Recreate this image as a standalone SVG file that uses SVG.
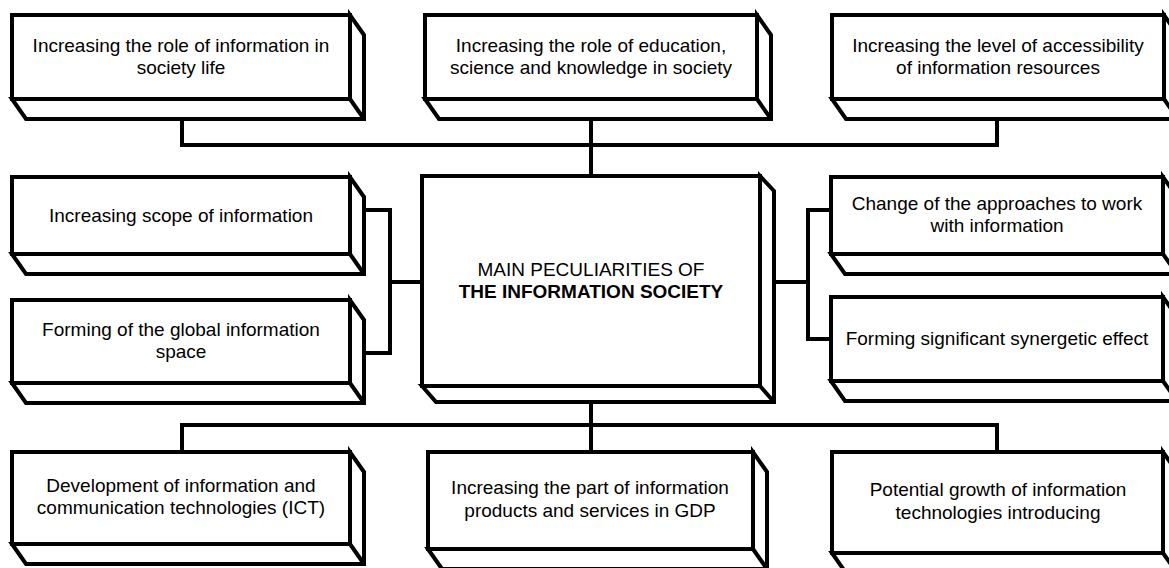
<svg xmlns="http://www.w3.org/2000/svg" width="1169" height="568" viewBox="0 0 1169 568">
<style>
.b{fill:#fff;stroke:#000;stroke-width:4;stroke-linejoin:miter}
.e{fill:none;stroke:#000;stroke-width:4;stroke-linejoin:miter}
.c{fill:none;stroke:#000;stroke-width:4;stroke-linejoin:miter}
text{font-family:"Liberation Sans",Arial,sans-serif;font-size:19px;fill:#000;text-anchor:middle}
.bold{font-weight:bold}
</style>
<rect width="1169" height="568" fill="#fff"/>
<g id="connectors">
<path class="c" d="M182,119 V145 H997 V119"/>
<path class="c" d="M591,119 V176"/>
<path class="c" d="M364,210 H390 V353 H364"/>
<path class="c" d="M390,282 H422"/>
<path class="c" d="M774,282 H808"/>
<path class="c" d="M831,210 H808 V339 H831"/>
<path class="c" d="M591,402 V452"/>
<path class="c" d="M182,452 V425 H997 V452"/>
</g>
<g id="n1">
<path class="b" d="M12,99 L26,119 H364 V35 L350,15 V99 Z"/>
<rect class="b" x="12" y="15" width="338" height="84"/>
<path class="e" d="M350,99 L364,119"/>
<text x="181" y="52">Increasing the role of information in</text>
<text x="181" y="74">society life</text>
</g>
<g id="n2">
<path class="b" d="M425,99 L439,119 H771 V35 L757,15 V99 Z"/>
<rect class="b" x="425" y="15" width="332" height="84"/>
<path class="e" d="M757,99 L771,119"/>
<text x="591" y="52">Increasing the role of education,</text>
<text x="591" y="74">science and knowledge in society</text>
</g>
<g id="n3">
<path class="b" d="M832,99 L846,119 H1178 V35 L1164,15 V99 Z"/>
<rect class="b" x="832" y="15" width="332" height="84"/>
<path class="e" d="M1164,99 L1178,119"/>
<text x="998" y="52">Increasing the level of accessibility</text>
<text x="998" y="74">of information resources</text>
</g>
<g id="n4">
<path class="b" d="M12,254 L26,274 H364 V197 L350,177 V254 Z"/>
<rect class="b" x="12" y="177" width="338" height="77"/>
<path class="e" d="M350,254 L364,274"/>
<text x="181" y="222">Increasing scope of information</text>
</g>
<g id="n5">
<path class="b" d="M12,383 L26,403 H364 V320 L350,300 V383 Z"/>
<rect class="b" x="12" y="300" width="338" height="83"/>
<path class="e" d="M350,383 L364,403"/>
<text x="181" y="336">Forming of the global information</text>
<text x="181" y="358">space</text>
</g>
<g id="center">
<path class="b" d="M422,386 L436,402 H774 V191 L760,176 V386 Z"/>
<rect class="b" x="422" y="176" width="338" height="210"/>
<path class="e" d="M760,386 L774,402"/>
<text x="591" y="276">MAIN PECULIARITIES OF</text>
<text class="bold" x="591" y="298">THE INFORMATION SOCIETY</text>
</g>
<g id="n6">
<path class="b" d="M831,254 L845,274 H1177 V197 L1163,177 V254 Z"/>
<rect class="b" x="831" y="177" width="332" height="77"/>
<path class="e" d="M1163,254 L1177,274"/>
<text x="997" y="210">Change of the approaches to work</text>
<text x="997" y="232">with information</text>
</g>
<g id="n7">
<path class="b" d="M831,381 L845,401 H1177 V317 L1163,297 V381 Z"/>
<rect class="b" x="831" y="297" width="332" height="84"/>
<path class="e" d="M1163,381 L1177,401"/>
<text x="997" y="345">Forming significant synergetic effect</text>
</g>
<g id="n8">
<path class="b" d="M12,544 L26,564 H364 V472 L350,452 V544 Z"/>
<rect class="b" x="12" y="452" width="338" height="92"/>
<path class="e" d="M350,544 L364,564"/>
<text x="181" y="492">Development of information and</text>
<text x="181" y="514">communication technologies (ICT)</text>
</g>
<g id="n9">
<path class="b" d="M428,549 L442,569 H767 V472 L753,452 V549 Z"/>
<rect class="b" x="428" y="452" width="325" height="97"/>
<path class="e" d="M753,549 L767,569"/>
<text x="590" y="494">Increasing the part of information</text>
<text x="590" y="517">products and services in GDP</text>
</g>
<g id="n10">
<path class="b" d="M832,553 L846,573 H1177 V472 L1163,452 V553 Z"/>
<rect class="b" x="832" y="452" width="331" height="101"/>
<path class="e" d="M1163,553 L1177,573"/>
<text x="998" y="496">Potential growth of information</text>
<text x="998" y="519">technologies introducing</text>
</g>
</svg>
